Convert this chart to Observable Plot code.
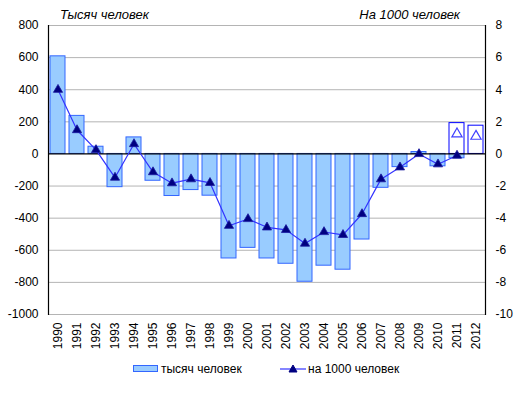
<!DOCTYPE html>
<html><head><meta charset="utf-8">
<script src="https://cdn.jsdelivr.net/npm/d3@7"></script>
<script src="https://cdn.jsdelivr.net/npm/@observablehq/plot@0.6"></script>
<style>
body{margin:0;background:#fff;font-family:"Liberation Sans",Arial,sans-serif;}
#wrap{position:relative;width:519px;height:393px;overflow:hidden;}
#chart{position:absolute;left:0;top:0;}
.t{position:absolute;font-size:13px;line-height:15px;font-style:italic;color:#000;white-space:nowrap;}
.lg{position:absolute;font-size:12px;line-height:14px;color:#000;white-space:nowrap;}
.sw{position:absolute;}
</style></head><body>
<div id="wrap">
  <div id="chart"></div>
  <div class="t" style="left:60px;top:7px;">Тысяч человек</div>
  <div class="t" style="right:59px;top:7px;">На 1000 человек</div>
  <svg class="sw" style="left:132px;top:364px;" width="27" height="9"><rect x="1.5" y="1.5" width="24" height="6" fill="#99ccff" stroke="#3366ff"/></svg>
  <div class="lg" style="left:161px;top:362px;">тысяч человек</div>
  <svg class="sw" style="left:279px;top:364px;" width="28" height="10"><line x1="1" x2="27" y1="5" y2="5" stroke="#3333ff" stroke-width="1.2"/><path d="M14,1 L18,8 L10,8 Z" fill="#000080" stroke="#000080"/></svg>
  <div class="lg" style="left:308px;top:362px;">на 1000 человек</div>
</div>
<script>
const years = ["1990","1991","1992","1993","1994","1995","1996","1997","1998","1999","2000","2001","2002","2003","2004","2005","2006","2007","2008","2009","2010","2011","2012"];
const thousands = [608, 237, 45, -207, 103, -167, -262, -225, -260, -651, -585, -651, -684, -796, -696, -721, -533, -211, -82, 12, -77, -27, null];
const perThousand = [4.0, 1.49, 0.25, -1.47, 0.62, -1.13, -1.82, -1.57, -1.8, -4.47, -4.05, -4.57, -4.73, -5.58, -4.86, -5.04, -3.74, -1.57, -0.83, 0.0, -0.64, -0.1, null];
const estYears = ["2011","2012"];
const estThousands = [192, 176];
const estPerThousand = [1.25, 1.1];
const leftTicks = [800, 600, 400, 200, 0, -200, -400, -600, -800, -1000];
const rightTicks = [8, 6, 4, 2, 0, -2, -4, -6, -8, -10];

const rows = years.map((y, i) => ({year: y, v: thousands[i], r: perThousand[i]}));
const est = estYears.map((y, i) => ({year: y, v: estThousands[i], r: estPerThousand[i]}));
const K = 100; // right axis 8 ↔ left axis 800

const chart = Plot.plot({
  width: 519, height: 393,
  marginLeft: 48, marginRight: 34, marginTop: 25, marginBottom: 79,
  style: {fontFamily: "Liberation Sans, Arial, sans-serif", fontSize: "12px", background: "white", color: "black"},
  x: {type: "band", domain: years, paddingInner: 0.2, paddingOuter: 0.1, label: null},
  y: {domain: [-1000, 800], label: null},
  marks: [
    Plot.ruleY(leftTicks.filter(d => d !== 0), {stroke: "#b4b4b4", strokeWidth: 1}),
    Plot.barY(rows.filter(d => d.v != null), {x: "year", y: "v", fill: "#99ccff", stroke: "#3366ff", strokeWidth: 1}),
    Plot.barY(est, {x: "year", y: "v", fill: "white", stroke: "#0000ff", strokeWidth: 1}),
    Plot.ruleY([0], {stroke: "black", strokeWidth: 1.2}),
    Plot.frame({anchor: "left", stroke: "black", strokeWidth: 1.2}),
    Plot.frame({anchor: "right", stroke: "black", strokeWidth: 1.2}),
    Plot.line(rows.filter(d => d.r != null), {x: "year", y: d => d.r * K, stroke: "#3333ff", strokeWidth: 1.2}),
    Plot.dot(rows.filter(d => d.r != null), {x: "year", y: d => d.r * K, symbol: "triangle", r: 3.4, fill: "#000080", stroke: "#1a1aa0", strokeWidth: 0.8}),
    Plot.dot(est, {x: "year", y: d => d.r * K, symbol: "triangle", r: 3.8, fill: "white", stroke: "#4040ff", strokeWidth: 1.2}),
    Plot.axisY(leftTicks, {anchor: "left", tickSize: 0, tickPadding: 10, tickFormat: d => String(d), fontSize: 12}),
    Plot.axisY(rightTicks.map(d => d * K), {anchor: "right", tickSize: 0, tickPadding: 10, tickFormat: d => String(d / K), fontSize: 12}),
    Plot.axisX({tickRotate: -90, tickSize: 0, tickPadding: 8, fontSize: 12, label: null})
  ]
});
document.getElementById("chart").appendChild(chart);
</script>
</body></html>
